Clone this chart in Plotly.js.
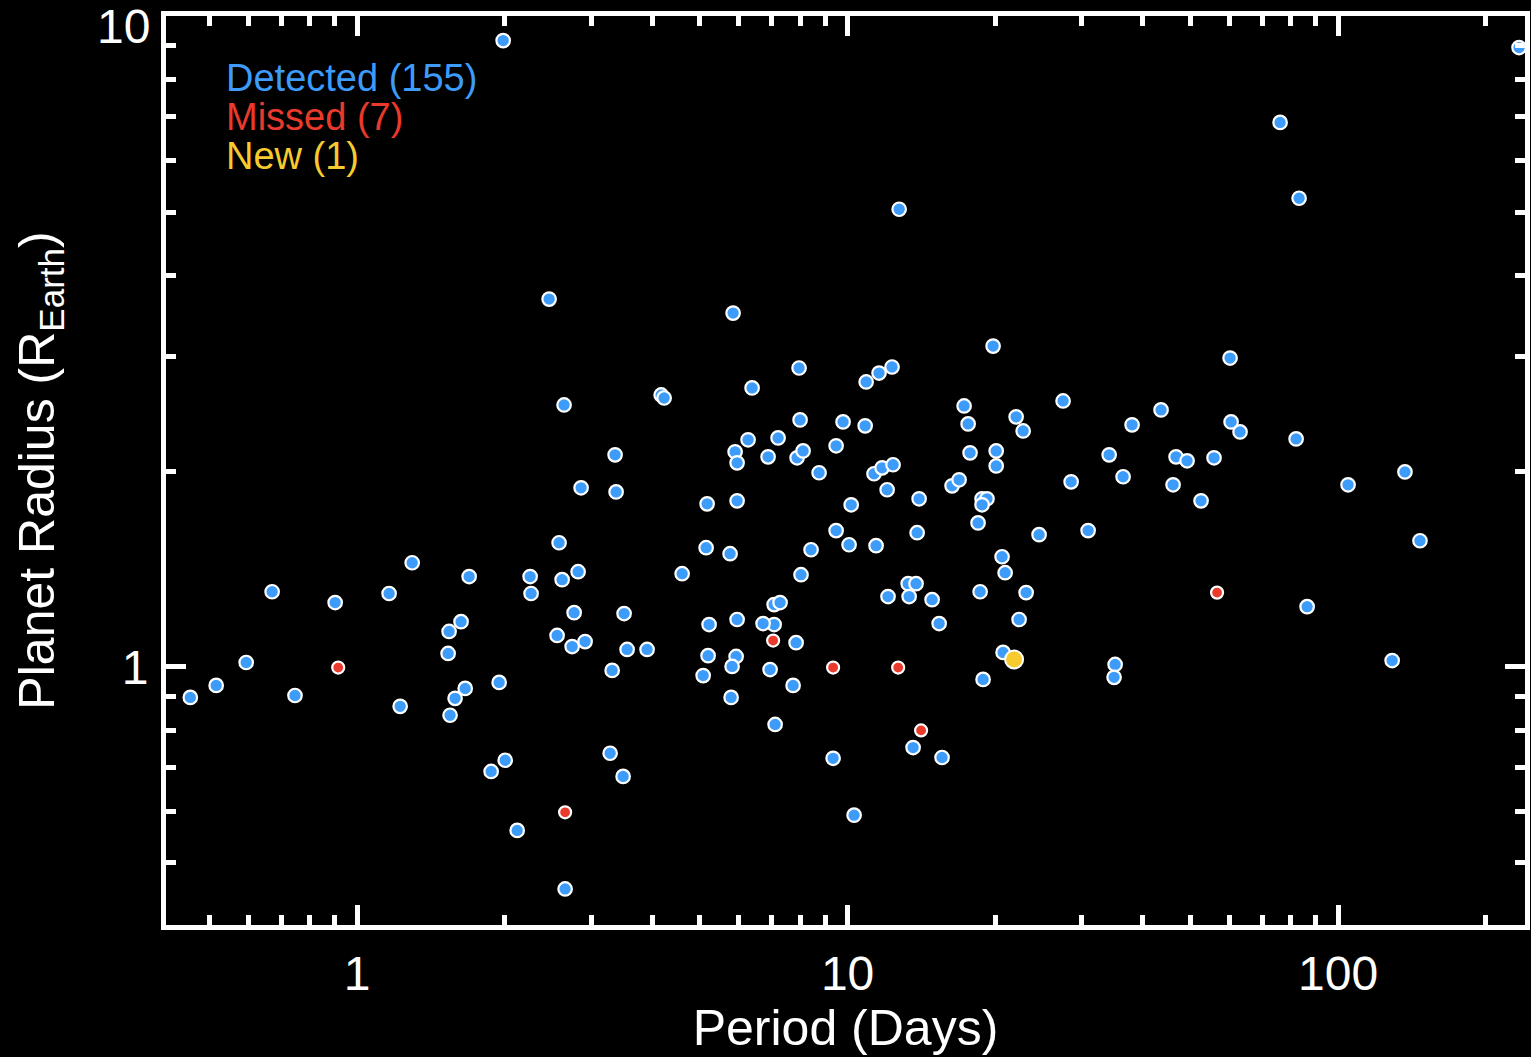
<!DOCTYPE html>
<html>
<head>
<meta charset="utf-8">
<script src="https://cdn.plot.ly/plotly-3.0.1.min.js"></script>
<style>html,body{margin:0;padding:0;background:#000;}</style>
</head>
<body>
<div id="chart" style="width:1531px;height:1057px;"></div>
<script>
// Detected planets (155 in legend): period (days) and radius (Earth radii)
const detectedPeriod = [0.457,0.516,0.594,0.671,0.747,0.902,1.162,1.224,1.295,1.540,1.533,1.629,1.584,1.547,1.661,1.692,1.948,1.985,1.876,2.004,2.120,2.253,2.263,2.463,2.581,2.642,2.618,2.822,2.770,2.557,2.744,2.916,2.862,3.357,3.373,3.311,3.280,3.486,3.502,3.552,3.901,4.168,4.226,4.599,2.655,5.147,5.171,5.219,5.195,5.076,5.760,5.842,5.897,5.953,5.953,5.953,5.925,5.815,5.788,6.268,6.387,6.885,7.216,7.083,7.284,7.083,6.725,6.950,7.116,7.743,7.852,7.963,8.001,7.889,8.114,8.036,8.424,8.748,9.342,9.475,9.790,9.475,10.07,10.17,10.31,10.91,11.59,12.32,10.86,11.32,11.76,12.38,12.04,11.43,12.09,12.74,13.29,13.79,13.35,13.86,13.99,14.87,15.37,13.60,15.58,17.28,17.61,16.33,16.88,17.77,18.45,18.80,19.24,18.80,18.63,19.80,20.09,20.09,20.65,20.95,23.12,22.37,20.75,18.89,22.06,22.80,24.57,27.50,28.56,30.93,34.14,36.45,38.02,43.56,46.09,46.74,49.22,52.56,55.86,35.11,34.94,60.23,60.52,63.12,76.17,82.12,83.28,86.47,104.8,128.9,136.9,146.9,233.9];
const detectedRadius = [0.898,0.937,1.016,1.305,0.904,1.256,1.297,0.870,1.446,1.134,1.049,1.174,0.895,0.843,0.927,1.377,0.947,9.17,0.691,0.719,0.561,1.377,1.297,3.675,1.552,2.527,1.362,1.401,1.212,1.118,1.075,1.094,1.885,2.118,1.858,0.988,0.737,0.679,1.208,1.064,1.064,2.618,2.590,1.391,0.456,1.525,1.781,1.162,1.041,0.970,1.493,3.497,2.141,2.059,1.800,1.183,1.038,1.002,0.898,2.234,2.684,2.103,2.249,1.247,1.256,1.162,1.166,0.991,0.816,0.937,1.090,2.880,2.397,2.096,2.148,1.386,1.514,1.988,0.724,2.187,2.380,1.620,1.541,1.775,0.592,2.741,2.829,2.890,2.347,1.981,2.023,2.045,1.872,1.536,1.283,5.050,1.343,1.343,1.283,1.608,1.813,1.269,1.166,0.752,0.726,2.518,2.363,1.898,1.939,2.133,1.665,1.813,1.813,1.775,1.305,3.112,2.148,2.037,1.477,1.396,1.301,1.183,1.053,0.957,2.423,2.305,1.597,2.563,1.925,1.620,2.118,1.960,2.355,2.483,1.905,2.103,2.074,1.800,2.096,1.009,0.964,2.983,2.380,2.297,6.866,2.241,5.250,1.238,1.905,1.023,1.994,1.563,8.948];

// Missed planets (7)
const missedPeriod = [0.915,2.655,7.049,9.342,12.68,14.12,56.66];
const missedRadius = [0.998,0.598,1.098,0.998,0.998,0.799,1.301];

// New planet (1)
const newPeriod = [21.85];
const newRadius = [1.027];

// Legend labels
const legendLabels = ['Detected (155)', 'Missed (7)', 'New (1)'];

// Axis ticks
const xMajorTicks = [1, 10, 100];
const xMajorLabels = ['1', '10', '100'];
const xMinorTicks = [0.5,0.6,0.7,0.8,0.9,2,3,4,5,6,7,8,9,20,30,40,50,60,70,80,90,200];
const yMajorTicks = [1, 10];
const yMajorLabels = ['1', '10'];
const yMinorTicks = [0.5,0.6,0.7,0.8,0.9,2,3,4,5,6,7,8,9];

const BLUE = '#3d9bfa', RED = '#ea3a2c', YELLOW = '#f7ca2e';
const FONT = 'Liberation Sans, Arial, Helvetica, sans-serif';

const traces = [
  {x: detectedPeriod, y: detectedRadius, type: 'scatter', mode: 'markers', name: legendLabels[0], cliponaxis: false,
   marker: {color: BLUE, size: 13.5, line: {color: 'white', width: 2.2}}, hoverinfo: 'x+y'},
  {x: missedPeriod, y: missedRadius, type: 'scatter', mode: 'markers', name: legendLabels[1], cliponaxis: false,
   marker: {color: RED, size: 12, line: {color: 'white', width: 2.2}}, hoverinfo: 'x+y'},
  {x: newPeriod, y: newRadius, type: 'scatter', mode: 'markers', name: legendLabels[2], cliponaxis: false,
   marker: {color: YELLOW, size: 18, line: {color: 'white', width: 2}}, hoverinfo: 'x+y'}
];

function axisCommon() {
  return {
    type: 'log',
    ticks: 'inside', ticklen: 20, tickwidth: 5, tickcolor: 'white',
    showline: true, linecolor: 'white', linewidth: 5, mirror: 'allticks',
    showgrid: false, zeroline: false,
    tickfont: {family: FONT, size: 48, color: 'white'},
    tickmode: 'array'
  };
}

const xaxis = Object.assign(axisCommon(), {
  range: [Math.log10(0.4077), Math.log10(240.5)],
  tickvals: xMajorTicks, ticktext: xMajorLabels,
  minor: {tickmode: 'array', tickvals: xMinorTicks, ticks: 'inside', ticklen: 10, tickwidth: 5, tickcolor: 'white', showgrid: false},
  title: {text: 'Period (Days)', font: {family: FONT, size: 50, color: 'white'}, standoff: 12},
  ticklabelstandoff: 2
});
// The top label ("10") sits at the very top edge of the frame; in the reference it is
// nudged down to stay inside the picture, so it is drawn as an annotation below.
const yaxis = Object.assign(axisCommon(), {
  range: [Math.log10(0.4014), 1.0002],
  tickvals: [yMajorTicks[0]], ticktext: [yMajorLabels[0]],
  minor: {tickmode: 'array', tickvals: yMinorTicks.concat([yMajorTicks[1]]), ticks: 'inside', ticklen: 20, tickwidth: 5, tickcolor: 'white', showgrid: false},
  title: {text: 'Planet Radius (R<sub>Earth</sub>)', font: {family: FONT, size: 50, color: 'white'}, standoff: 53},
  ticklabelstandoff: 3
});
// minor ticks on y use the short length; the major one at 10 coincides with the frame top
yaxis.minor.ticklen = 10;

const legendColors = [BLUE, RED, YELLOW];
const legendY = [0.9318, 0.8889, 0.846];
const annotations = legendLabels.map((t, i) => ({
  text: t, xref: 'paper', yref: 'paper', x: 0.0425, y: legendY[i],
  xanchor: 'left', yanchor: 'middle', showarrow: false,
  font: {family: FONT, size: 38, color: legendColors[i]}
}));
annotations.push({
  text: yMajorLabels[1], xref: 'paper', yref: 'y',
  x: -0.0105, y: Math.log10(yMajorTicks[1]),
  xanchor: 'right', yanchor: 'middle', yshift: -10, showarrow: false,
  font: {family: FONT, size: 48, color: 'white'}
});

const layout = {
  width: 1531, height: 1057,
  paper_bgcolor: '#000000', plot_bgcolor: '#000000',
  margin: {l: 166, r: 6, t: 16, b: 132, pad: 0},
  showlegend: false,
  font: {family: FONT, color: 'white'},
  xaxis: xaxis, yaxis: yaxis,
  annotations: annotations
};

Plotly.newPlot('chart', traces, layout, {displayModeBar: false, staticPlot: true});
</script>
</body>
</html>
